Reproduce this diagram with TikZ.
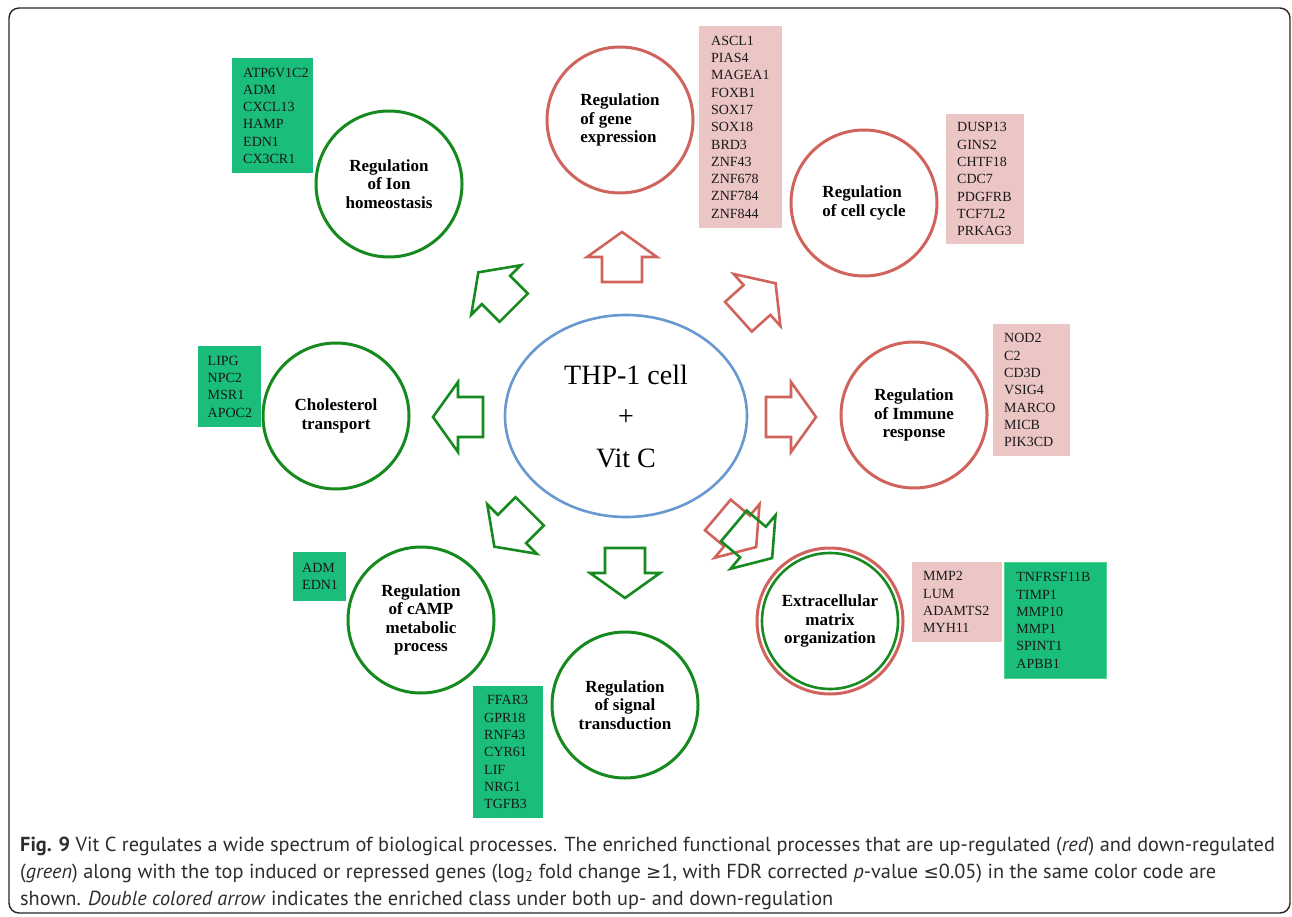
\documentclass[tikz,border=0pt]{standalone}
\usepackage{fontspec}
\setmainfont{Liberation Serif}
\newfontfamily\capfont{PT Sans}
\newfontfamily\symfont{DejaVu Sans}[Scale=0.9]
\usetikzlibrary{shapes.geometric}
\definecolor{upred}{RGB}{208,100,92}
\definecolor{downgreen}{RGB}{22,138,30}
\definecolor{cellblue}{RGB}{104,152,208}
\definecolor{upfill}{RGB}{236,197,197}
\definecolor{downfill}{RGB}{26,189,122}
\definecolor{downedge}{RGB}{80,215,140}
\definecolor{captext}{RGB}{45,45,45}
\tikzset{
  procnode/.style={circle,line width=3pt,minimum size=146pt,inner sep=0pt,
    align=center,font=\fontsize{17}{18.3}\selectfont\bfseries},
  upnode/.style={procnode,draw=upred},
  downnode/.style={procnode,draw=downgreen},
  genebox/.style={rectangle,anchor=north west,align=left,inner ysep=0pt,
    inner xsep=11pt,text=black!90,font=\fontsize{14}{17.3}\selectfont},
  upbox/.style={genebox,fill=upfill},
  downbox/.style={genebox,fill=downfill},
  blockarr/.style={line width=2.6pt,line join=miter},
  capline/.style={anchor=base west,inner sep=0pt,text=captext,
    font=\capfont\fontsize{20.3}{27}\selectfont}
}

\begin{document}
\begin{tikzpicture}[x=1pt,y=-1pt]
  \useasboundingbox (0,0) rectangle (1292,917);

  % Frame
  \draw[line width=1.4pt,draw=black!85,rounded corners=10pt] (9,8) rectangle (1290,913);

  % Centre
  \node[ellipse,draw=cellblue,line width=2.6pt,minimum width=242pt,minimum height=202pt,
    align=center,font=\fontsize{28}{41.5}\selectfont] (cell) at (626,416) {THP-1 cell\\+\\Vit C};

  % Process circles
  \node[downnode] (ion) at (389,184) {Regulation\\of Ion\\homeostasis};
  \node[upnode,align=left] (geneexpr) at (620,120) {Regulation\\of gene\\expression};
  \node[upnode,align=left] (cellcycle) at (864,203) {Regulation\\of cell cycle};
  \node[upnode] (immune) at (914,415) {Regulation\\of Immune\\response};
  \node[upnode] (ecm) at (830,621) {};
  \node[downnode,line width=2.6pt,minimum size=136pt] (ecminner) at (ecm) {Extracellular\\matrix\\organization};
  \node[downnode] (signal) at (625,705) {Regulation\\of signal\\transduction};
  \node[downnode] (camp) at (421,620) {Regulation\\of cAMP\\metabolic\\process};
  \node[downnode] (chol) at (336,416) {Cholesterol\\transport};

  % Block arrows
  \foreach \xc/\yc/\ang/\col in {
    622/257/90/upred, 757/300/42/upred, 791/417/0/upred, 737/531/-40/upred,
    753/542/-40/downgreen, 625/573/-90/downgreen, 512/529/-135/downgreen,
    458/417/180/downgreen, 496/290/135/downgreen}{
    \draw[blockarr,draw=\col,shift={(\xc,\yc)},rotate=\ang]
      (25,0) -- (0,35) -- (0,20) -- (-25,20) -- (-25,-20) -- (0,-20) -- (0,-35) -- cycle;
  }

  % Gene lists
  \node[downbox,text width=59pt,minimum height=115pt] (ionbox) at (232,58)
    {ATP6V1C2\\ADM\\CXCL13\\HAMP\\EDN1\\CX3CR1};
  \node[upbox,text width=59pt,inner xsep=12pt,minimum height=202pt] (geneexprbox) at (699,26)
    {ASCL1\\PIAS4\\MAGEA1\\FOXB1\\SOX17\\SOX18\\BRD3\\ZNF43\\ZNF678\\ZNF784\\ZNF844};
  \node[upbox,text width=56pt,minimum height=130pt] (cellcyclebox) at (946,114)
    {DUSP13\\GINS2\\CHTF18\\CDC7\\PDGFRB\\TCF7L2\\PRKAG3};
  \node[upbox,text width=55pt,minimum height=132pt] (immunebox) at (993,324)
    {NOD2\\C2\\CD3D\\VSIG4\\MARCO\\MICB\\PIK3CD};
  \node[upbox,text width=68pt,minimum height=80pt] (ecmupbox) at (912,562)
    {MMP2\\LUM\\ADAMTS2\\MYH11};
  \node[downbox,draw=downedge,line width=0.8pt,text width=78pt,inner xsep=12pt,minimum height=116pt]
    (ecmdownbox) at (1004,562) {TNFRSF11B\\TIMP1\\MMP10\\MMP1\\SPINT1\\APBB1};
  \node[downbox,text width=44pt,inner xsep=9.5pt,minimum height=81pt] (cholbox) at (198,346)
    {LIPG\\NPC2\\MSR1\\APOC2};
  \node[downbox,text width=35pt,inner xsep=9pt,minimum height=49pt] (campbox) at (293,552)
    {ADM\\EDN1};
  \node[downbox,text width=48pt,minimum height=132pt] (signalbox) at (473,686)
    {\hspace{3pt}FFAR3\\GPR18\\RNF43\\CYR61\\LIF\\NRG1\\TGFB3};

  % Caption
  \node[capline] (cap1) at (20,851) {\textbf{Fig. 9} Vit C regulates a wide spectrum of biological processes. The enriched functional processes that are up-regulated (\textit{red}) and down-regulated};
  \node[capline] (cap2) at (20,878) {(\textit{green}) along with the top induced or repressed genes (log\textsubscript{2} fold change {\symfont ≥}1, with FDR corrected \textit{p}-value {\symfont ≤}0.05) in the same color code are};
  \node[capline] (cap3) at (20,905) {shown. \textit{Double colored arrow} indicates the enriched class under both up- and down-regulation};

\end{tikzpicture}
\end{document}
